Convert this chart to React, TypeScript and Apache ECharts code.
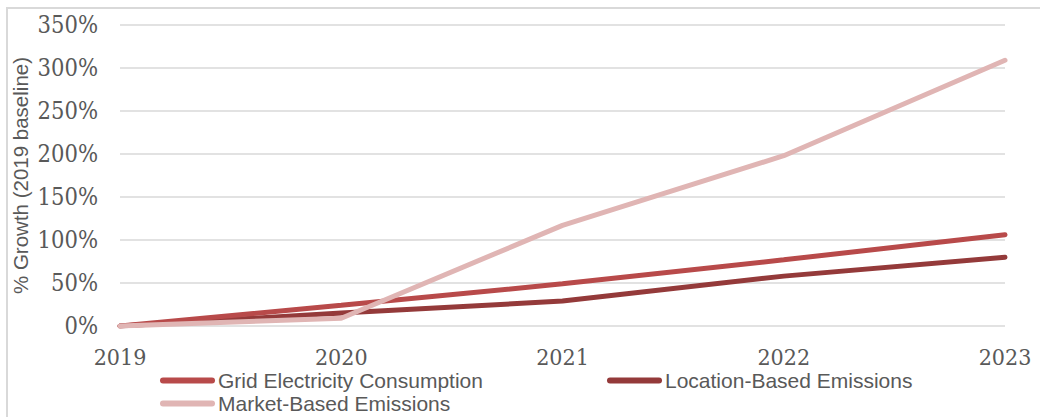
import React, { useEffect, useRef } from "react";
import * as echarts from "echarts";

const years = ["2019", "2020", "2021", "2022", "2023"];
const gridElectricity = [0, 24, 49, 77, 106];
const locationBased = [0, 15, 29, 58, 80];
const marketBased = [0, 9, 117, 198, 309];
const yTicks = [0, 50, 100, 150, 200, 250, 300, 350];

const SERIF = "'DejaVu Serif Condensed', 'DejaVu Serif', serif";
const SANS = "'Liberation Sans', Arial, sans-serif";
const capsule = "path://M3,0 L52,0 A3,3 0 0 1 52,6 L3,6 A3,3 0 0 1 3,0 Z";

export default function App() {
  const ref = useRef<HTMLDivElement>(null);
  useEffect(() => {
    document.body.style.margin = "0";
    const chart = echarts.init(ref.current!, undefined, { renderer: "svg" });
    const legendBase = {
      orient: "horizontal" as const,
      icon: capsule,
      itemWidth: 55,
      itemHeight: 6,
      itemGap: 10,
      padding: 0,
      textStyle: {
        fontFamily: SANS,
        fontSize: 21,
        lineHeight: 16,
        color: "#595959",
        padding: [0, 0, 0, -2],
      },
    };
    chart.setOption({
      animation: false,
      graphic: [
        {
          type: "rect",
          shape: { x: 7, y: 8, width: 1040, height: 420 },
          style: { fill: "none", stroke: "#D9D9D9", lineWidth: 2 },
          silent: true,
        },
      ],
      grid: { left: 120, right: 35, top: 25, bottom: 91 },
      legend: [
        { ...legendBase, left: 160, top: 370, data: ["Grid Electricity Consumption"] },
        { ...legendBase, left: 607, top: 370, data: ["Location-Based Emissions"] },
        { ...legendBase, left: 160, top: 393, data: ["Market-Based Emissions"] },
      ],
      xAxis: {
        type: "category",
        data: years,
        boundaryGap: false,
        axisLine: { show: false },
        axisTick: { show: false },
        axisLabel: {
          fontFamily: SERIF,
          fontSize: 23,
          lineHeight: 18,
          color: "#595959",
          margin: 22,
        },
      },
      yAxis: {
        type: "value",
        min: 0,
        max: 350,
        interval: 50,
        name: "% Growth (2019 baseline)",
        nameLocation: "middle",
        nameGap: 89,
        nameMoveOverlap: false,
        nameTextStyle: { fontFamily: SANS, fontSize: 20.5, color: "#595959" },
        axisLine: { show: false },
        axisTick: { show: false },
        splitLine: { lineStyle: { color: "#D9D9D9", width: 1.5 } },
        axisLabel: {
          fontFamily: SERIF,
          fontSize: 23.5,
          color: "#595959",
          margin: 22,
          formatter: (v: number) => (yTicks.includes(v) ? v + "%" : ""),
        },
      },
      series: [
        {
          name: "Grid Electricity Consumption",
          type: "line",
          data: gridElectricity,
          symbol: "none",
          lineStyle: { width: 5, color: "#B84A4A", cap: "round" },
          itemStyle: { color: "#B84A4A" },
          z: 3,
        },
        {
          name: "Location-Based Emissions",
          type: "line",
          data: locationBased,
          symbol: "none",
          lineStyle: { width: 5, color: "#943A3A", cap: "round" },
          itemStyle: { color: "#943A3A" },
          z: 2,
        },
        {
          name: "Market-Based Emissions",
          type: "line",
          data: marketBased,
          symbol: "none",
          lineStyle: { width: 5, color: "#E0B5B4", cap: "round" },
          itemStyle: { color: "#E0B5B4" },
          z: 4,
        },
      ],
    });
    return () => chart.dispose();
  }, []);
  return <div ref={ref} style={{ width: 1040, height: 417 }} />;
}
